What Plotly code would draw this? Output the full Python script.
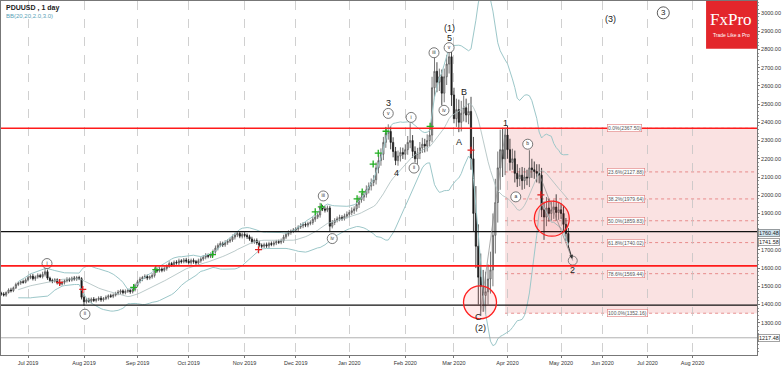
import numpy as np
import pandas as pd
import plotly.graph_objects as go

# ---------------- data ----------------
SYMBOL_TITLE = "PDUUSD , 1 day"
INDICATOR_TITLE = "BB(20,20,2.0,3.0)"
START_DATE = "2019-06-14"
FIRST_OPEN = 1462

CLOSE = [
    # Jun 2019
    1458, 1452, 1466, 1480, 1476, 1492, 1510, 1518, 1525, 1522, 1535,
    # Jul 2019
    1548, 1556, 1542, 1551, 1560, 1553, 1566, 1580, 1545, 1532, 1528, 1536, 1520, 1512,
    1522, 1530, 1538, 1534, 1545, 1540, 1548, 1542, 1440,
    # Aug 2019
    1415, 1425, 1418, 1430, 1422, 1428, 1435, 1426, 1432, 1440, 1448, 1445, 1452, 1460,
    1468, 1475, 1465, 1472, 1478, 1470, 1482, 1505,
    # Sep 2019
    1525, 1540, 1548, 1555, 1545, 1552, 1560, 1590, 1585, 1595, 1588, 1598, 1610, 1625,
    1618, 1632, 1628, 1640, 1635, 1645, 1638,
    # Oct 2019
    1630, 1642, 1636, 1628, 1640, 1650, 1660, 1670, 1665, 1675, 1690, 1710, 1725, 1735,
    1728, 1740, 1748, 1755, 1770, 1782, 1790, 1775, 1785,
    # Nov 2019
    1780, 1772, 1760, 1745, 1752, 1738, 1725, 1720, 1728, 1722, 1735, 1730, 1738, 1745,
    1742, 1750, 1770, 1785, 1795, 1802, 1808,
    # Dec 2019
    1815, 1825, 1832, 1840, 1836, 1845, 1850, 1868, 1880, 1892, 1935, 1925, 1918, 1930,
    1830, 1850, 1862, 1870, 1878, 1872, 1885, 1895,
    # Jan 2020
    1905, 1915, 1925, 1950, 1975, 1990, 2005, 2030, 2050, 2070, 2085, 2150, 2190, 2225,
    2290, 2340, 2350, 2290, 2240, 2190, 2215, 2235, 2225,
    # Feb 2020
    2250, 2290, 2300, 2240, 2200, 2230, 2260, 2280, 2270, 2300, 2330, 2590, 2680, 2620,
    2650, 2560, 2650, 2720, 2760, 2550,
    # Mar 2020
    2420, 2470, 2400, 2450, 2480, 2440, 2460, 2200, 1900, 1720, 1550, 1500, 1450, 1470,
    1540, 1590, 1780, 1960, 2150, 2250, 2200, 2330,
    # Apr 2020
    2250, 2180, 2200, 2120, 2090, 2110, 2080, 2100, 2095, 2150, 2140, 2130, 2120, 2110,
    1920, 1880, 1930, 1900, 1920, 1935, 1905, 1920,
    # May 2020
    1900, 1840, 1790, 1742,
]

UP_WICK = [
    8, 10, 6, 9, 12, 7, 10, 8, 6, 12, 9,
    9, 10, 12, 8, 11, 9, 14, 22, 12, 8, 10, 9, 8, 10, 9, 8, 12, 10, 8, 11, 9, 10, 8,
    15, 10, 12, 9, 11, 8, 10, 12, 9, 10, 8, 11, 9, 10, 12, 9, 8, 11, 10, 9, 12, 10,
    10, 12, 9, 11, 10, 8, 12, 14, 10, 12, 9, 11, 10, 12, 9, 10, 11, 12, 9, 10, 11,
    12, 10, 11, 9, 12, 10, 11, 12, 10, 11, 12, 14, 11, 12, 10, 13, 11, 12, 14, 12, 8, 11, 10,
    12, 10, 11, 12, 10, 11, 12, 10, 11, 12, 10, 11, 12, 10, 11, 12, 13, 11, 12, 10, 12,
    12, 10, 14, 12, 11, 10, 12, 14, 12, 15, 23, 12, 14, 13, 12, 14, 12, 13, 15, 12, 14, 16,
    15, 18, 14, 20, 18, 22, 19, 24, 20, 22, 25, 30, 28, 32, 30, 35, 39, 30, 28, 25, 30, 28, 26,
    30, 35, 95, 30, 28, 30, 32, 35, 30, 34, 38, 60, 75, 50, 45, 40, 45, 50, 30, 60,
    40, 60, 55, 68, 68, 50, 45, 80, 120, 150, 120, 130, 90, 110, 80, 100, 120, 130, 90, 110, 120, 37,
    50, 60, 55, 45, 50, 40, 45, 50, 40, 97, 50, 45, 40, 50, 40, 45, 60, 50, 45, 40, 70, 40,
    35, 40, 35, 30,
]

DOWN_WICK = [
    10, 8, 9, 6, 10, 8, 7, 9, 10, 8, 6,
    8, 9, 10, 12, 9, 8, 10, 12, 10, 9, 11, 8, 10, 9, 8, 12, 9, 10, 8, 9, 10, 8, 12,
    23, 10, 9, 12, 8, 10, 9, 11, 10, 8, 12, 9, 10, 8, 9, 12, 10, 9, 8, 11, 9, 10,
    10, 9, 12, 8, 11, 9, 10, 12, 10, 9, 11, 8, 12, 9, 10, 11, 9, 12, 10, 9, 11,
    10, 11, 12, 10, 9, 11, 10, 12, 11, 10, 12, 11, 13, 10, 12, 11, 12, 10, 11, 13, 12, 11, 12,
    11, 12, 10, 11, 12, 10, 11, 12, 10, 11, 12, 10, 11, 12, 10, 11, 12, 10, 11, 12, 10,
    11, 12, 10, 13, 11, 12, 10, 12, 14, 11, 15, 12, 13, 11, 30, 12, 14, 11, 13, 12, 11, 13,
    16, 14, 18, 15, 20, 16, 22, 18, 20, 24, 20, 26, 30, 28, 32, 30, 35, 38, 32, 25, 28, 30, 26,
    30, 28, 32, 35, 20, 30, 32, 28, 35, 30, 32, 40, 50, 55, 48, 67, 50, 45, 52, 60,
    25, 45, 54, 50, 45, 40, 50, 60, 100, 120, 150, 160, 90, 100, 70, 80, 90, 100, 110, 120, 100, 90,
    50, 45, 40, 50, 45, 40, 50, 45, 40, 50, 45, 40, 50, 45, 40, 125, 50, 45, 40, 50, 45, 40,
    30, 35, 40, 30,
]

# horizontal support / resistance levels
RED_LEVELS = [2367.5, 1612]
BLACK_LEVELS = [1800, 1397]
GRAY_LEVEL = 1217.48

# Fibonacci retracement
FIB_HIGH = 2367.50
FIB_LOW = 1352.16
FIB_LEVELS = [0.0, 23.6, 38.2, 50.0, 61.8, 78.6, 100.0]
FIB_START_DATE = "2020-03-31"

# axis price labels
PRICE_TAGS = [("1760.48", 1795, "#cfe3ee"), ("1741.58", 1741.58, "white"), ("1217.48", 1217.48, "white")]
# price-axis tick labels (the ones hidden behind tags in the reference are left blank)
Y_TICKS = list(range(1200, 3001, 100))
Y_TICKS_HIDDEN = [1200, 1800]

# future month ticks (bars beyond the data)
FUTURE_TICK_POS = [247, 265.5, 284]
FUTURE_TICK_TEXT = ["Jun 2020", "Jul 2020", "Aug 2020"]

# wave labels (bar position, price, text)
WAVE_POS = [184, 184, 159, 162.2, 190.1, 188, 207.3, 196.2, 196.7, 234.8, 250.3]
WAVE_PRICE = [2918, 2864, 2504, 2122, 2569, 2291, 2395, 1330, 1270, 1587, 2968]
WAVE_TEXT = ["(1)", "5", "3", "4", "B", "A", "1", "C", "(2)", "2", "(3)"]

CIRCLE_POS = [18.8, 34.4, 132.3, 136, 159, 168.4, 169.6, 177.8, 181.9, 184, 211.4, 216.3]
CIRCLE_PRICE = [1625, 1347, 1996, 1762, 2449, 2427, 2149, 2782, 2466, 2810, 1991, 2280]
CIRCLE_TEXT = ["i", "ii", "iii", "iv", "v", "i", "ii", "iii", "iv", "v", "a", "b"]

RED_MARK_POS = [24, 33.5, 105.7, 193, 221.7]
RED_MARK_PRICE = [1521, 1483, 1701, 2247, 2002]
GREEN_MARK_POS = [54.4, 63.5, 86.8, 129, 131.5, 146.2, 148.3, 152.8, 154.9, 158.1, 176.2]
GREEN_MARK_PRICE = [1494, 1592, 1674, 1909, 1936, 1980, 2018, 2171, 2231, 2351, 2378]

# ---------------- derived series ----------------
n = len(CLOSE)
assert len(UP_WICK) == n and len(DOWN_WICK) == n
dates = pd.bdate_range(START_DATE, periods=n)
pos = np.arange(n)
close = np.array(CLOSE, float)
open_ = np.concatenate([[FIRST_OPEN], close[:-1]])
high = np.maximum(open_, close) + np.array(UP_WICK)
low = np.minimum(open_, close) - np.array(DOWN_WICK)

s = pd.Series(close)
mid = s.rolling(20, min_periods=8).mean()
sd = s.rolling(20, min_periods=8).std(ddof=0)
upper = mid + 2.0 * sd
lower = mid - 2.0 * sd

X_MIN, X_MAX = -0.1, 310.5
Y_MIN, Y_MAX = 1123, 3066
PLOT_W, PLOT_H = 757, 356

tick_pos, tick_text = [], []
for i in range(1, n):
    if dates[i].month != dates[i - 1].month:
        tick_pos.append(i)
        tick_text.append(dates[i].strftime("%b %Y"))
tick_pos += FUTURE_TICK_POS
tick_text += FUTURE_TICK_TEXT

FONT = "Liberation Sans, Arial, sans-serif"

fig = go.Figure()

# Bollinger bands
fig.add_trace(go.Scatter(x=pos, y=upper, mode="lines", line=dict(color="#9cc7c9", width=1),
                         hoverinfo="skip", showlegend=False))
fig.add_trace(go.Scatter(x=pos, y=lower, mode="lines", line=dict(color="#9cc7c9", width=1),
                         hoverinfo="skip", showlegend=False))
fig.add_trace(go.Scatter(x=pos, y=mid, mode="lines", line=dict(color="#a9bdbd", width=0.8),
                         hoverinfo="skip", showlegend=False))

# candles
fig.add_trace(go.Candlestick(
    x=pos, open=open_, high=high, low=low, close=close,
    increasing=dict(line=dict(color="#555555", width=0.8), fillcolor="#d6d6d6"),
    decreasing=dict(line=dict(color="#1a1a1a", width=0.8), fillcolor="#1a1a1a"),
    whiskerwidth=0, showlegend=False, hoverinfo="skip"))

# signal crosses
fig.add_trace(go.Scatter(x=RED_MARK_POS, y=RED_MARK_PRICE, mode="markers",
                         marker=dict(symbol="cross-thin", size=5, line=dict(color="#e02020", width=1.3)),
                         hoverinfo="skip", showlegend=False))
fig.add_trace(go.Scatter(x=GREEN_MARK_POS, y=GREEN_MARK_PRICE, mode="markers",
                         marker=dict(symbol="cross-thin", size=5, line=dict(color="#1fae1f", width=1.3)),
                         hoverinfo="skip", showlegend=False))

# circled wave labels
fig.add_trace(go.Scatter(x=CIRCLE_POS, y=CIRCLE_PRICE, mode="markers+text", text=CIRCLE_TEXT,
                         textposition="middle center",
                         textfont=dict(size=5, color="#333", family=FONT),
                         marker=dict(symbol="circle", size=10, color="white",
                                     line=dict(color="#555", width=0.8)),
                         hoverinfo="skip", showlegend=False))

shapes = []
fib_start = int(dates.get_loc(pd.Timestamp(FIB_START_DATE)))
shapes.append(dict(type="rect", xref="x", yref="y", x0=fib_start, x1=X_MAX, y0=FIB_LOW, y1=FIB_HIGH,
                   fillcolor="rgba(236,150,150,0.28)", line=dict(width=0), layer="below"))
annotations = []
for lv in FIB_LEVELS:
    price = FIB_HIGH - (FIB_HIGH - FIB_LOW) * lv / 100.0
    shapes.append(dict(type="line", xref="x", yref="y", x0=fib_start, x1=X_MAX, y0=price, y1=price,
                       line=dict(color="rgba(220,80,80,0.75)", width=0.8, dash="dot"), layer="below"))
    annotations.append(dict(x=249, y=price, xref="x", yref="y", xanchor="left", yanchor="middle",
                            text=f"{lv:.1f}%({price:.2f})", showarrow=False,
                            font=dict(size=5, color="#555", family=FONT),
                            bgcolor="white", bordercolor="rgba(220,110,110,0.9)", borderwidth=0.6,
                            borderpad=0.5))

for lv in RED_LEVELS:
    shapes.append(dict(type="line", xref="paper", yref="y", x0=0, x1=1, y0=lv, y1=lv,
                       line=dict(color="#ff1a1a", width=1.6)))
for lv in BLACK_LEVELS:
    shapes.append(dict(type="line", xref="paper", yref="y", x0=0, x1=1, y0=lv, y1=lv,
                       line=dict(color="#111111", width=1.4)))
shapes.append(dict(type="line", xref="paper", yref="y", x0=0, x1=1, y0=GRAY_LEVEL, y1=GRAY_LEVEL,
                   line=dict(color="#9a9a9a", width=0.8)))

# wave connector lines
shapes.append(dict(type="line", xref="x", yref="y", x0=196.7, y0=1340, x1=207.3, y1=2367,
                   line=dict(color="#888", width=0.7)))
shapes.append(dict(type="line", xref="x", yref="y", x0=221.2, y0=2111, x1=234.8, y1=1641,
                   line=dict(color="#888", width=0.7)))

# red highlight circles
for cx, cy, r in [(196.7, 1412, 16.5), (226.2, 1871, 17.5)]:
    shapes.append(dict(type="circle", xref="x", yref="y", xsizemode="pixel", ysizemode="pixel",
                       xanchor=cx, yanchor=cy, x0=-r, x1=r, y0=-r, y1=r,
                       fillcolor="rgba(255,60,60,0.10)", line=dict(color="#ff2020", width=1.3)))

# arrow to wave 2
annotations.append(dict(x=234.6, y=1650, ax=232.8, ay=1730, xref="x", yref="y", axref="x", ayref="y",
                        text="", showarrow=True, arrowhead=2, arrowsize=0.8, arrowwidth=1,
                        arrowcolor="#333"))
fig.add_trace(go.Scatter(x=[234.8], y=[1641], mode="markers",
                         marker=dict(symbol="circle-open", size=9, color="#666", line=dict(width=0.8)),
                         hoverinfo="skip", showlegend=False))

for xv, yv, t in zip(WAVE_POS, WAVE_PRICE, WAVE_TEXT):
    annotations.append(dict(x=xv, y=yv, xref="x", yref="y", text=t, showarrow=False,
                            xanchor="center", yanchor="middle",
                            font=dict(size=9, color="#222", family=FONT)))
# circled (3)
fig.add_trace(go.Scatter(x=[272], y=[3001], mode="markers+text", text=["3"],
                         textposition="middle center", textfont=dict(size=8, color="#222", family=FONT),
                         marker=dict(symbol="circle-open", size=12, color="#333", line=dict(width=0.8)),
                         hoverinfo="skip", showlegend=False))

# axis price tags
for txt, yv, bg in PRICE_TAGS:
    annotations.append(dict(x=1.0, y=yv, xref="paper", yref="y", xanchor="left", yanchor="middle",
                            text=txt, showarrow=False, font=dict(size=5.5, color="#222", family=FONT),
                            bgcolor=bg, bordercolor="#666", borderwidth=0.6, borderpad=0.3, xshift=1))

# logo
shapes.append(dict(type="rect", xref="paper", yref="paper", x0=706 / PLOT_W, x1=1.0,
                   y0=1 - 48 / PLOT_H, y1=1.0, fillcolor="#e3262b", line=dict(width=0)))
annotations.append(dict(x=731 / PLOT_W, y=1 - 19 / PLOT_H, xref="paper", yref="paper", text="FxPro",
                        xanchor="center", yanchor="middle", showarrow=False,
                        font=dict(size=17, color="white", family="Liberation Serif, serif")))
annotations.append(dict(x=731 / PLOT_W, y=1 - 34 / PLOT_H, xref="paper", yref="paper",
                        xanchor="center", yanchor="middle", text="Trade Like a Pro", showarrow=False,
                        font=dict(size=5, color="white", family=FONT)))

# titles
annotations.append(dict(x=3 / PLOT_W, y=1 - 1 / PLOT_H, xref="paper", yref="paper", xanchor="left",
                        yanchor="top", text="<b>" + SYMBOL_TITLE + "</b>", showarrow=False,
                        font=dict(size=7, color="#222", family=FONT)))
annotations.append(dict(x=3 / PLOT_W, y=1 - 10 / PLOT_H, xref="paper", yref="paper", xanchor="left",
                        yanchor="top", text=INDICATOR_TITLE, showarrow=False,
                        font=dict(size=6, color="#5aa3b8", family=FONT)))

fig.update_layout(
    width=782, height=366,
    margin=dict(l=0, r=25, t=0, b=10),
    paper_bgcolor="white", plot_bgcolor="white",
    shapes=shapes, annotations=annotations,
    font=dict(family=FONT, size=6, color="#333"),
    xaxis=dict(range=[X_MIN, X_MAX], tickvals=tick_pos, ticktext=tick_text,
               showgrid=True, gridcolor="#c4c4c4", griddash="dash", gridwidth=0.8,
               zeroline=False, showline=True, linecolor="#777", linewidth=1, mirror=True,
               ticks="outside", ticklen=2, tickcolor="#777", tickfont=dict(size=5.5),
               ticklabelstandoff=0, rangeslider=dict(visible=False), fixedrange=True),
    yaxis=dict(range=[Y_MIN, Y_MAX], side="right", tickvals=Y_TICKS,
               ticktext=["" if v in Y_TICKS_HIDDEN else f"{v:.2f}" for v in Y_TICKS],
               showgrid=False, zeroline=False, showline=True, linecolor="#777", linewidth=1,
               mirror=True, ticks="outside", ticklen=2, tickcolor="#777", tickfont=dict(size=5.5),
               ticklabelstandoff=0, fixedrange=True,
               minor=dict(dtick=20, ticks="outside", ticklen=1, tickcolor="#999")),
    hovermode=False,
)

fig.write_html("out.html", config={"displayModeBar": False, "staticPlot": True},
               post_script="document.body.style.margin='0';document.body.style.overflow='hidden';")
